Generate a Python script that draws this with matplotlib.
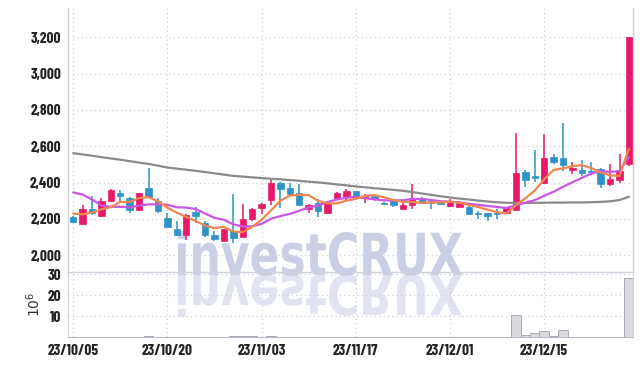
import numpy as np
import pandas as pd
import matplotlib
matplotlib.use('Agg')
import matplotlib.pyplot as plt
from matplotlib.textpath import TextPath
from matplotlib.patches import PathPatch
from matplotlib.font_manager import FontProperties
from matplotlib.transforms import Affine2D
from matplotlib.ticker import FuncFormatter

# ---------------- data ----------------
holidays = ['2023-10-09', '2023-12-25', '2023-12-29', '2024-01-01']
days = [d for d in pd.bdate_range('2023-10-05', '2024-01-02')
        if d.strftime('%Y-%m-%d') not in holidays]
dates = [d.strftime('%y/%m/%d') for d in days]

opens = [2212, 2170, 2253, 2216, 2300, 2344, 2314, 2250, 2373, 2301,
         2203, 2142, 2110, 2238, 2175, 2112, 2079, 2131, 2101, 2197,
         2258, 2303, 2399, 2373, 2342, 2257, 2286, 2231, 2314, 2323,
         2353, 2314, 2325, 2290, 2303, 2255, 2277, 2314, 2297, 2292,
         2271, 2266, 2264, 2231, 2231, 2232, 2231, 2251, 2458, 2436,
         2399, 2540, 2534, 2470, 2468, 2463, 2474, 2392, 2415, 2503]
highs = [2215, 2277, 2325, 2316, 2364, 2357, 2320, 2345, 2479, 2316,
         2234, 2186, 2225, 2268, 2190, 2131, 2145, 2340, 2282, 2260,
         2286, 2412, 2402, 2397, 2390, 2284, 2312, 2292, 2347, 2364,
         2355, 2340, 2330, 2295, 2306, 2286, 2395, 2320, 2301, 2297,
         2312, 2300, 2272, 2246, 2234, 2253, 2262, 2671, 2471, 2582,
         2666, 2560, 2730, 2514, 2523, 2514, 2478, 2505, 2560, 3200]
lows = [2180, 2165, 2220, 2212, 2298, 2300, 2230, 2248, 2320, 2234,
        2153, 2108, 2086, 2180, 2099, 2077, 2077, 2068, 2098, 2188,
        2225, 2279, 2258, 2327, 2278, 2231, 2212, 2229, 2312, 2301,
        2322, 2286, 2298, 2275, 2268, 2253, 2255, 2283, 2257, 2281,
        2268, 2264, 2219, 2197, 2186, 2201, 2229, 2248, 2377, 2401,
        2397, 2501, 2465, 2447, 2437, 2443, 2368, 2383, 2397, 2489]
closes = [2182, 2253, 2235, 2297, 2358, 2327, 2250, 2342, 2323, 2243,
          2155, 2110, 2223, 2216, 2110, 2090, 2142, 2093, 2201, 2257,
          2284, 2397, 2366, 2338, 2279, 2275, 2243, 2290, 2342, 2353,
          2325, 2327, 2308, 2282, 2277, 2279, 2318, 2290, 2286, 2285,
          2297, 2290, 2229, 2225, 2214, 2227, 2258, 2453, 2416, 2427,
          2536, 2514, 2498, 2479, 2452, 2458, 2392, 2419, 2463, 3200]
volumes = [0.08, 0.08, 0.08, 0.08, 0.08, 0.08, 0.08, 0.08, 0.4, 0.08,
           0.08, 0.08, 0.08, 0.08, 0.08, 0.08, 0.08, 0.3, 0.3, 0.3,
           0.08, 0.3, 0.08, 0.08, 0.08, 0.08, 0.08, 0.08, 0.08, 0.08,
           0.08, 0.08, 0.08, 0.08, 0.08, 0.08, 0.08, 0.08, 0.08, 0.08,
           0.08, 0.08, 0.08, 0.08, 0.08, 0.08, 0.08, 10.3, 0.8, 1.9,
           2.7, 0.3, 3.2, 0.15, 0.15, 0.15, 0.15, 0.15, 0.15, 28.0]
ma5_head = [2230, 2225, 2235, 2253]
ma10_head = [2346, 2334, 2307, 2274, 2267, 2267, 2263, 2274, 2280]
ma60 = [2562, 2555, 2548, 2540, 2533, 2526, 2518, 2510, 2503, 2493,
        2483, 2477, 2471, 2465, 2458, 2451, 2444, 2437, 2433, 2429,
        2425, 2421, 2418, 2414, 2410, 2405, 2401, 2396, 2390, 2385,
        2379, 2374, 2369, 2365, 2360, 2355, 2348, 2340, 2333, 2325,
        2318, 2312, 2307, 2301, 2296, 2292, 2289, 2288, 2288, 2289,
        2289, 2290, 2290, 2291, 2291, 2292, 2294, 2297, 2304, 2322]
price_ticks = [2000, 2200, 2400, 2600, 2800, 3000, 3200]
vol_ticks = [10, 20, 30]
date_tick_idx = [0, 10, 20, 30, 40, 50]

# ---------------- derived ----------------
n = len(closes)
x = np.arange(n)
cs = pd.Series(closes, dtype=float)
ma5 = cs.rolling(5).mean().to_numpy()
ma5[:4] = ma5_head
ma10 = cs.rolling(10).mean().to_numpy()
ma10[:9] = ma10_head

UP = '#e8196a'
DOWN = '#2e93c8'
GRID = '#cdd0e0'
SPINE = '#cfd1dd'
TXT = '#222222'

tick_fp = FontProperties(family=['Barlow Condensed', 'DejaVu Sans'],
                         weight='bold', size=11, stretch='condensed')

fig = plt.figure(figsize=(6.42, 3.66), dpi=100)
fig.patch.set_facecolor('white')

L = 68 / 642
W = (632.7 - 68) / 642
ax = fig.add_axes([L, 94 / 366, W, (358 - 94) / 366])
axv = fig.add_axes([L, 29 / 366, W, (94 - 29) / 366], sharex=ax)
for a in (ax, axv):
    a.set_facecolor('none')

# ---------------- watermark ----------------
wm_fp = FontProperties(family='DejaVu Sans', weight='bold')
tp = TextPath((0, 0), 'investCRUX', size=1, prop=wm_fp)
ext = tp.get_extents()
capH = TextPath((0, 0), 'C', size=1, prop=wm_fp).get_extents().y1
sx = 284 / ext.width
sy = 43 / capH
x0 = 178 - ext.x0 * sx
base = 366 - 275
FW, FH = 642.0, 366.0
t_main = Affine2D().scale(sx / FW, sy / FH).translate(x0 / FW, base / FH) + fig.transFigure
t_refl = Affine2D().scale(sx / FW, -sy * 0.95 / FH).translate(x0 / FW, base / FH) + fig.transFigure
fig.patches.append(PathPatch(tp, transform=t_refl, facecolor='#e1e4f0', edgecolor='none',
                             zorder=-2))
fig.patches.append(PathPatch(tp, transform=t_main, facecolor='#cacfe6', edgecolor='none',
                             zorder=-1))

# ---------------- candles ----------------
o = np.array(opens, float); c = np.array(closes, float)
h = np.array(highs, float); l = np.array(lows, float)
up = c >= o
cols = np.where(up, UP, DOWN)
ax.vlines(x, l, h, colors=cols, linewidth=1.1, zorder=3)
bottom = np.minimum(o, c)
height = np.maximum(np.abs(c - o), 4)
ax.bar(x, height, bottom=bottom, width=0.68, color=cols, edgecolor=cols,
       linewidth=0.5, zorder=4)

ax.plot(x, ma60, color='#8a8a8a', lw=1.6, zorder=5, solid_capstyle='round')
ax.plot(x, ma10, color='#c957e3', lw=1.6, zorder=6, solid_capstyle='round')
ax.plot(x, ma5, color='#f0874e', lw=1.6, zorder=7, solid_capstyle='round')

ax.set_ylim(1908, 3361)
ax.set_xlim(-0.55, n - 0.6)
ax.set_yticks(price_ticks)
ax.yaxis.set_major_formatter(FuncFormatter(lambda v, p: f'{v:,.0f}'))
ax.set_xticks(date_tick_idx)
ax.grid(True, color=GRID, linestyle=(0, (1, 2.5)), linewidth=0.9)
ax.set_axisbelow(True)
ax.tick_params(axis='both', length=0, pad=5, colors=TXT)
ax.tick_params(axis='x', labelbottom=False)
for lab in ax.get_yticklabels():
    lab.set_fontproperties(tick_fp)
ax.spines['top'].set_visible(False)
for s in ('left', 'right', 'bottom'):
    ax.spines[s].set_color(SPINE)
    ax.spines[s].set_linewidth(1.0)

# ---------------- volume ----------------
axv.bar(x, volumes, width=1.0, color='#d9d9de', edgecolor='#a9a9b2', linewidth=0.7, zorder=3)
axv.set_ylim(0, 31)
axv.set_yticks(vol_ticks)
axv.set_yticklabels([str(v) for v in vol_ticks])
axv.set_xticks(date_tick_idx)
axv.set_xticklabels([dates[i] for i in date_tick_idx])
axv.grid(True, color=GRID, linestyle=(0, (1, 2.5)), linewidth=0.9)
axv.set_axisbelow(True)
axv.tick_params(axis='both', length=0, pad=5, colors=TXT)
for lab in axv.get_yticklabels() + axv.get_xticklabels():
    lab.set_fontproperties(tick_fp)
axv.spines['top'].set_visible(False)
for s in ('left', 'right'):
    axv.spines[s].set_color(SPINE)
axv.spines['bottom'].set_color('#b9bbc6')
axv.set_ylabel('$10^6$', fontsize=10, color='#333333')
axv.yaxis.set_label_coords(-0.045, 0.5)

fig.savefig('out.png', dpi=100)
